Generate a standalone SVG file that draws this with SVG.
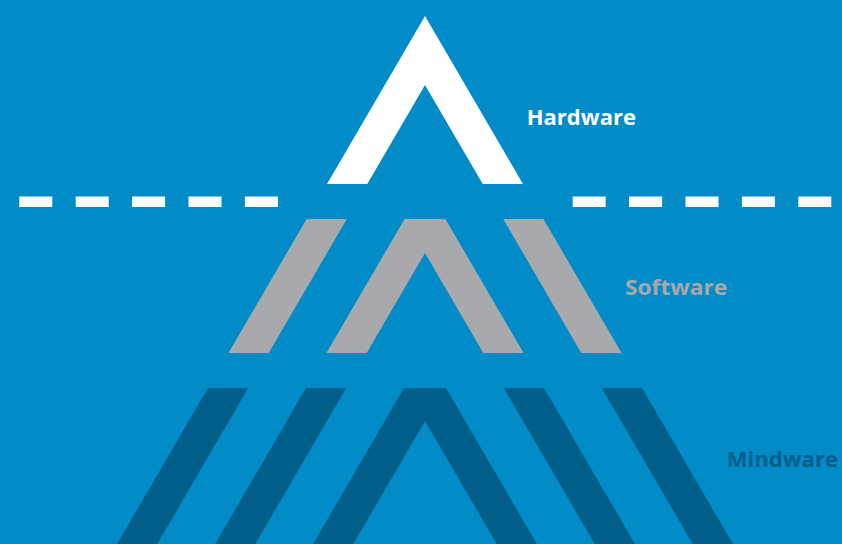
<svg xmlns="http://www.w3.org/2000/svg" width="842" height="544" viewBox="0 0 842 544">
  <style>
    .hw { fill: #FFFFFF; }
    .sw { fill: #A7A9AC; }
    .mw { fill: #005F8A; }
    .label { font-family: "Open Sans", "Liberation Sans", sans-serif; font-weight: 700; font-size: 22px; }
    .divider { fill: none; stroke: #FFFFFF; stroke-width: 10.6; stroke-dasharray: 33 23.4; }
  </style>

  <!-- background -->
  <rect x="0" y="0" width="842" height="544" fill="#018CC8"/>

  <!-- top chevron -->
  <g id="hardware">
    <polygon class="hw" points="327,184 425,16 523,184 482.75,184 425,85 367.25,184"/>
    <text class="label hw" x="526.7" y="125" textLength="109.3" lengthAdjust="spacingAndGlyphs">Hardware</text>
  </g>

  <!-- waterline -->
  <g id="connectors">
    <path class="divider" d="M19.3,201.75 H278"/>
    <path class="divider" d="M572.7,201.75 H831.4"/>
  </g>

  <!-- middle band -->
  <g id="software">
    <polygon class="sw" points="306.58,219 346.83,219 268.67,353 228.42,353"/>
    <polygon class="sw" points="326.42,353 404.58,219 445.42,219 523.58,353 483.33,353 425,253 366.67,353"/>
    <polygon class="sw" points="543.42,219 503.17,219 581.33,353 621.58,353"/>
    <text class="label sw" x="625" y="295" textLength="102.3" lengthAdjust="spacingAndGlyphs">Software</text>
  </g>

  <!-- bottom band -->
  <g id="mindware">
    <polygon class="mw" points="208,388 248.25,388 157.25,544 117,544"/>
    <polygon class="mw" points="306,388 346.25,388 255.25,544 215,544"/>
    <polygon class="mw" points="313,544 404,388 446,388 537,544 496.75,544 425,421 353.25,544"/>
    <polygon class="mw" points="544,388 503.75,388 594.75,544 635,544"/>
    <polygon class="mw" points="642,388 601.75,388 692.75,544 733,544"/>
    <text class="label mw" x="726.7" y="466.7" textLength="111.3" lengthAdjust="spacingAndGlyphs">Mindware</text>
  </g>
</svg>
